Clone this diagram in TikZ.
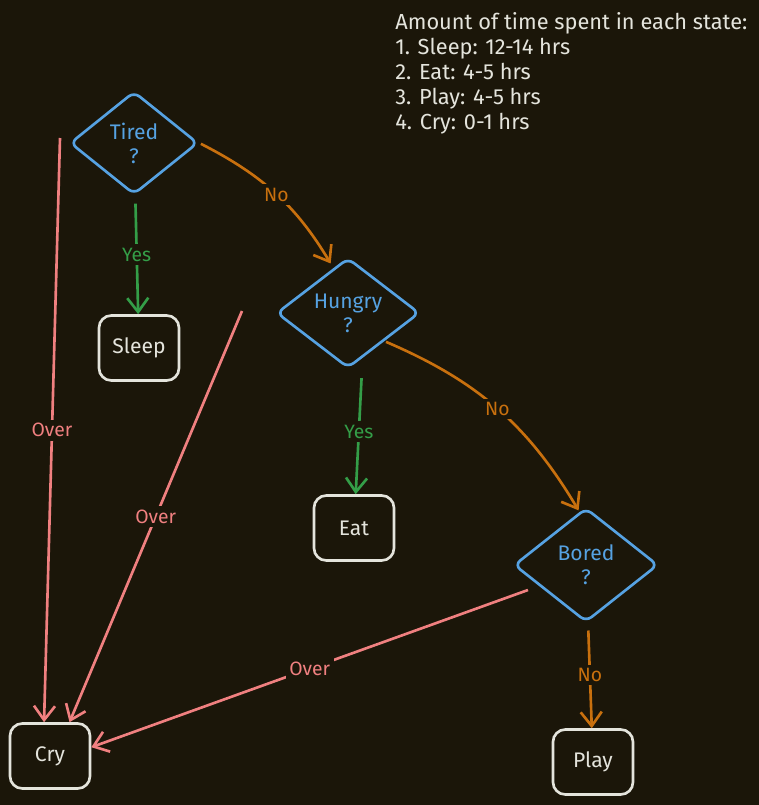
\documentclass[tikz,border=0pt]{standalone}
\usepackage{fontspec}
\setmainfont{Fira Sans}
\usetikzlibrary{shapes.geometric,arrows.meta}

\definecolor{bgdark}{RGB}{27,22,9}
\definecolor{qblue}{RGB}{86,162,226}
\definecolor{ygreen}{RGB}{52,158,72}
\definecolor{norange}{RGB}{200,112,14}
\definecolor{overred}{RGB}{240,128,128}
\definecolor{boxwhite}{RGB}{228,228,220}

\begin{document}
\begin{tikzpicture}[x=0.02cm, y=-0.02cm, font=\fontsize{12}{13.6}\selectfont,
		decision/.style={diamond, draw=qblue, line width=1.5pt, rounded corners=4pt, text=qblue, align=center, inner sep=0pt, aspect=1.25},
		statebox/.style={rectangle, draw=boxwhite, line width=1.5pt, rounded corners=7pt, text=boxwhite, minimum width=1.6cm, minimum height=1.3cm},
		flow/.style={line width=1.5pt, -{Straight Barb[length=8pt, width=12pt]}},
		lbl/.style={fill=bgdark, inner sep=2pt, font=\fontsize{11}{13}\selectfont},
		yesedge/.style={flow, draw=ygreen, text=ygreen},
		noedge/.style={flow, draw=norange, text=norange},
		overedge/.style={flow, draw=overred, text=overred}]

		% Background
		\fill[bgdark] (0,0) rectangle (759,805);
		\useasboundingbox (0,0) rectangle (759,805);

		% Time per state
		\node (times) [anchor=north west, align=left, text=boxwhite, inner sep=0pt, font=\fontsize{12.4}{14.2}\selectfont] at (395,12) {Amount of time spent in each state:\\1. Sleep: 12-14 hrs\\2. Eat: 4-5 hrs\\3. Play: 4-5 hrs\\4. Cry: 0-1 hrs};

		% Questions
		\node (tired) [decision, minimum width=2.56cm, minimum height=2.06cm] at (134,143) {Tired\\?};
		\node (hungry) [decision, minimum width=2.86cm, minimum height=2.2cm] at (348,313) {Hungry\\?};
		\node (bored) [decision, minimum width=2.88cm, minimum height=2.28cm] at (586,565) {Bored\\?};

		% States
		\node (sleep) [statebox] at (139,348) {Sleep};
		\node (eat) [statebox] at (354,528) {Eat};
		\node (cry) [statebox] at (50,756) {Cry};
		\node (play) [statebox] at (593,762) {Play};

		% Free ends of the Over arrows
		\coordinate (over1) at (60,138);
		\coordinate (over2) at (242,311);
		\coordinate (over3) at (528,590);

		% Arrows
		\draw[yesedge, shorten <=5pt] (tired) -- node[lbl]{Yes} (sleep);
		\draw[noedge, shorten <=1pt, shorten >=3pt] (tired.east) to[bend left=16] node[lbl]{No} (hungry.108);
		\draw[yesedge, shorten <=5pt] ([xshift=0.28cm]hungry.south) -- node[lbl]{Yes} (eat);
		\draw[noedge, shorten <=1pt, shorten >=1pt] (hungry.south east) to[bend left=18] node[lbl]{No} (bored.97);
		\draw[noedge, shorten <=5pt] (bored) -- node[lbl]{No} (play);
		\draw[overedge] (over1) -- node[lbl]{Over} (cry.100);
		\draw[overedge] (over2) -- node[lbl]{Over} (cry.60);
		\draw[overedge] (over3) -- node[lbl]{Over} (cry.12);
	\end{tikzpicture}
\end{document}
